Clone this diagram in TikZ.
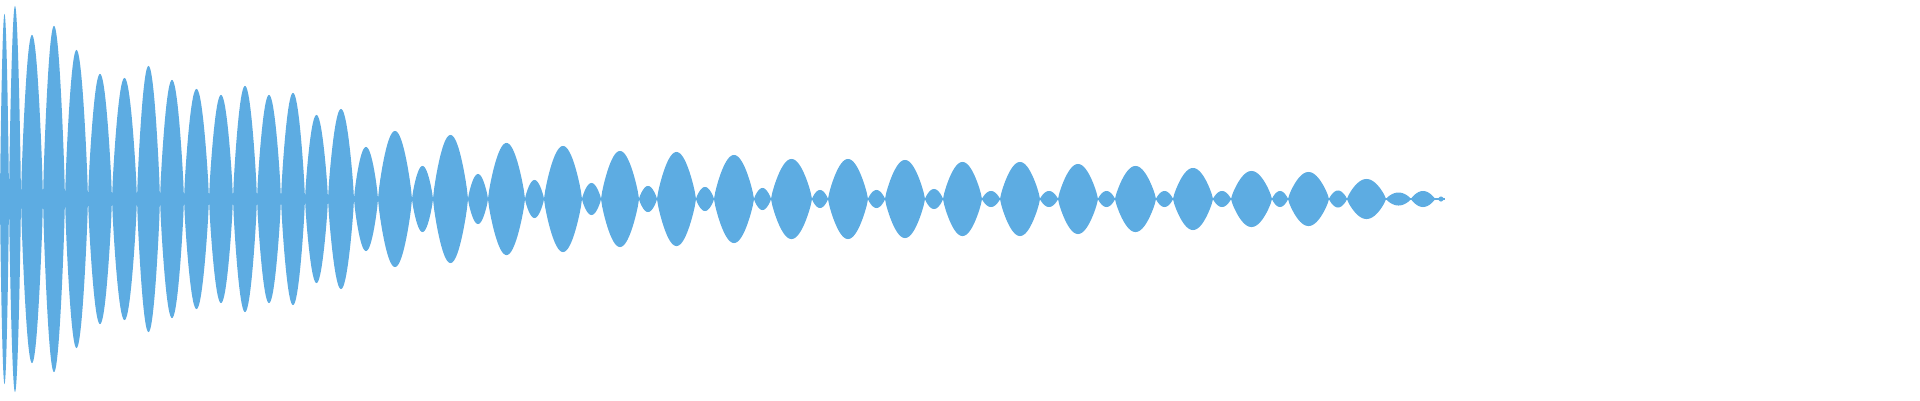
\documentclass[tikz,border=0pt]{standalone}
\definecolor{wave}{RGB}{93,172,226}
\newcommand{\lobe}[3]{\fill[wave] plot[domain=0:180,samples=31] ({#1+(#2-#1)*\x/180},{199+#3*(sin(\x)+0.001)^0.8}) -- plot[domain=180:0,samples=31] ({#1+(#2-#1)*\x/180},{199-#3*(sin(\x)+0.001)^0.8}) -- cycle;}
\begin{document}
\begin{tikzpicture}[x=1pt,y=-1pt]
\useasboundingbox (0,0) rectangle (1920,400);
\fill[wave] (0,197.8) rectangle (1445,200.2);
\foreach \a/\b/\h in {0/9/185, 9/21/193, 21/43/164, 43/65/173, 65/88/149, 88/112/125, 112/137/121, 137/160/133, 160/184/119, 184/209/110, 209/233/104, 233/257/113, 257/281/104, 281/305/106, 305/328/84, 328/354/90, 354/378/52, 378/412/68, 412/433/33, 433/468/64, 468/488/25, 488/525/56, 525/544/19, 544/582/53, 582/601/16, 601/639/48, 639/657/13, 657/696/47, 696/714/12, 714/754/44, 754/771/11, 771/812/40, 812/828/9, 828/868/40, 868/885/9, 885/925/39, 925/943/10, 943/982/37, 982/1000/8, 1000/1040/37, 1040/1058/8, 1058/1098/35, 1098/1115/8, 1115/1156/33, 1156/1173/8, 1173/1213/31, 1213/1231/8, 1231/1272/28, 1272/1288/8, 1288/1329/27, 1329/1347/8.5, 1347/1386/20, 1386/1411/6.5, 1411/1435/8, 1438/1444/2.5}
{\lobe{\a}{\b}{\h}}
\end{tikzpicture}
\end{document}
